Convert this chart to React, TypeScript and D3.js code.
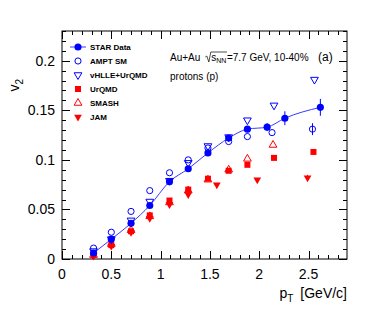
import React, { useEffect, useRef } from "react";
import * as d3 from "d3";

const W = 366;
const H = 309;

// STAR Data
const starPt = [0.32, 0.5, 0.7, 0.89, 1.09, 1.28, 1.48, 1.69, 1.88, 2.08, 2.26, 2.62];
const starV2 = [0.006, 0.02, 0.036, 0.054, 0.078, 0.091, 0.107, 0.122, 0.131, 0.133, 0.142, 0.153];
const starErr = [0.001, 0.001, 0.0015, 0.0015, 0.002, 0.002, 0.0025, 0.003, 0.003, 0.004, 0.007, 0.0085];

// AMPT SM
const amptPt = [0.32, 0.5, 0.7, 0.89, 1.09, 1.28, 1.48, 1.69, 1.88, 2.13, 2.54];
const amptV2 = [0.011, 0.027, 0.048, 0.069, 0.087, 0.1, 0.112, 0.1185, 0.1235, 0.1275, 0.131];
const amptErr = [0, 0, 0, 0, 0, 0, 0, 0, 0, 0, 0.006];

// vHLLE+UrQMD
const vhllePt = [0.32, 0.5, 0.7, 0.89, 1.09, 1.28, 1.48, 1.69, 1.88, 2.15, 2.56];
const vhlleV2 = [0.008, 0.02, 0.039, 0.058, 0.079, 0.097, 0.114, 0.123, 0.14, 0.155, 0.181];

// UrQMD
const urqmdPt = [0.32, 0.5, 0.7, 0.89, 1.09, 1.28, 1.48, 1.69, 1.88, 2.15, 2.55];
const urqmdV2 = [0.004, 0.014, 0.028, 0.044, 0.059, 0.07, 0.081, 0.089, 0.095, 0.102, 0.108];

// SMASH
const smashPt = [0.32, 0.5, 0.7, 0.89, 1.09, 1.28, 1.48, 1.69, 1.88, 2.14];
const smashV2 = [0.004, 0.015, 0.029, 0.043, 0.057, 0.069, 0.08, 0.09, 0.101, 0.115];

// JAM
const jamPt = [0.32, 0.5, 0.7, 0.89, 1.09, 1.28, 1.57, 1.98, 2.49];
const jamV2 = [0.003, 0.013, 0.027, 0.041, 0.055, 0.065, 0.075, 0.08, 0.082];
const jamErr = [0, 0, 0, 0, 0, 0, 0, 0, 0.003];

const xTicks = [0, 0.5, 1, 1.5, 2, 2.5];
const yTicks = [0, 0.05, 0.1, 0.15, 0.2];
const legendLabels = ["STAR Data", "AMPT SM", "vHLLE+UrQMD", "UrQMD", "SMASH", "JAM"];

const BLUE = "#0000ff";
const RED = "#ff0000";
const FONT = "'Liberation Sans', Arial, Helvetica, sans-serif";

export default function App() {
  const ref = useRef<SVGSVGElement>(null);

  useEffect(() => {
    const svg = d3.select(ref.current);
    svg.selectAll("*").remove();

    const L = 62, R = 347, T = 31, B = 259;
    const x = d3.scaleLinear().domain([0, 2.89]).range([L, R]);
    const y = d3.scaleLinear().domain([0, 0.23]).range([B, T]);

    svg.append("rect").attr("width", W).attr("height", H).attr("fill", "white");

    // frame
    svg.append("rect").attr("x", L).attr("y", T).attr("width", R - L).attr("height", B - T)
      .attr("fill", "none").attr("stroke", "black").attr("stroke-width", 1);

    const g = svg.append("g");
    const xMinor = d3.range(0, 2.89, 0.1);
    xMinor.forEach((v) => {
      const major = Math.abs(v * 2 - Math.round(v * 2)) < 1e-6;
      const len = major ? 8 : 4;
      const px = Math.round(x(v)) + 0.5;
      g.append("line").attr("x1", px).attr("x2", px).attr("y1", B).attr("y2", B - len).attr("stroke", "black");
      g.append("line").attr("x1", px).attr("x2", px).attr("y1", T).attr("y2", T + len).attr("stroke", "black");
    });
    const yMinor = d3.range(0, 0.2301, 0.01);
    yMinor.forEach((v) => {
      const major = Math.abs(v * 20 - Math.round(v * 20)) < 1e-6;
      const len = major ? 8 : 4;
      const py = Math.round(y(v)) + 0.5;
      g.append("line").attr("x1", L).attr("x2", L + len).attr("y1", py).attr("y2", py).attr("stroke", "black");
      g.append("line").attr("x1", R).attr("x2", R - len).attr("y1", py).attr("y2", py).attr("stroke", "black");
    });

    xTicks.forEach((v) => {
      g.append("text").attr("x", x(v)).attr("y", 279).attr("text-anchor", "middle")
        .attr("font-family", FONT).attr("font-size", 14).text(d3.format("")(v));
    });
    yTicks.forEach((v) => {
      g.append("text").attr("x", 55).attr("y", y(v) + 5).attr("text-anchor", "end")
        .attr("font-family", FONT).attr("font-size", 14).text(d3.format("")(v));
    });

    // axis titles
    const xt = svg.append("text").attr("x", R).attr("y", 298).attr("text-anchor", "end")
      .attr("font-family", FONT).attr("font-size", 14);
    xt.append("tspan").text("p");
    xt.append("tspan").attr("font-size", 10).attr("dy", 4).text("T");
    xt.append("tspan").attr("dy", -4).attr("dx", 7).text("[GeV/c]");

    const yt = svg.append("text").attr("transform", "translate(19,79) rotate(-90)").attr("text-anchor", "end")
      .attr("font-family", FONT).attr("font-size", 14);
    yt.append("tspan").text("v");
    yt.append("tspan").attr("font-size", 10).attr("dy", 4).text("2");

    // STAR line
    const line = d3.line<number>().x((_, i) => x(starPt[i])).y((d) => y(d)).curve(d3.curveMonotoneX);
    svg.append("path").attr("d", line(starV2)).attr("fill", "none").attr("stroke", "#3a3aff").attr("stroke-width", 1);

    const sym = (type: any, size: number) => d3.symbol().type(type).size(size)();

    const drawSeries = (pts: number[], vals: number[], errs: number[] | null, type: any, size: number,
      color: string, filled: boolean, rot: number) => {
      const gg = svg.append("g");
      if (errs) {
        vals.forEach((v, i) => {
          if (errs[i] > 0) {
            gg.append("line").attr("x1", x(pts[i])).attr("x2", x(pts[i]))
              .attr("y1", y(v - errs[i])).attr("y2", y(v + errs[i])).attr("stroke", color).attr("stroke-width", 1);
          }
        });
      }
      vals.forEach((v, i) => {
        gg.append("path").attr("d", sym(type, size))
          .attr("transform", `translate(${x(pts[i])},${y(v)}) rotate(${rot})`)
          .attr("fill", filled ? color : "white").attr("fill-opacity", filled ? 1 : 0)
          .attr("stroke", color).attr("stroke-width", filled ? 0 : 1);
      });
    };

    drawSeries(jamPt, jamV2, jamErr, d3.symbolTriangle, 26, RED, true, 180);
    drawSeries(smashPt, smashV2, null, d3.symbolTriangle, 26, RED, false, 0);
    drawSeries(urqmdPt, urqmdV2, null, d3.symbolSquare, 36, RED, true, 0);
    drawSeries(vhllePt, vhlleV2, null, d3.symbolTriangle, 26, BLUE, false, 180);
    drawSeries(amptPt, amptV2, amptErr, d3.symbolCircle, 30, BLUE, false, 0);
    drawSeries(starPt, starV2, starErr, d3.symbolCircle, 40, BLUE, true, 0);

    // legend
    const lg = svg.append("g");
    const types = [d3.symbolCircle, d3.symbolCircle, d3.symbolTriangle, d3.symbolSquare, d3.symbolTriangle, d3.symbolTriangle];
    const sizes = [40, 30, 26, 36, 26, 26];
    const cols = [BLUE, BLUE, BLUE, RED, RED, RED];
    const fills = [true, false, false, true, false, true];
    const rots = [0, 0, 180, 0, 0, 180];
    legendLabels.forEach((lab, i) => {
      const cy = 47 + i * 14;
      if (i === 0) {
        lg.append("line").attr("x1", 70).attr("x2", 86).attr("y1", cy).attr("y2", cy).attr("stroke", "#3a3aff");
      }
      lg.append("path").attr("d", sym(types[i], sizes[i]))
        .attr("transform", `translate(78,${cy}) rotate(${rots[i]})`)
        .attr("fill", fills[i] ? cols[i] : "none").attr("stroke", cols[i]).attr("stroke-width", fills[i] ? 0 : 1);
      lg.append("text").attr("x", 90).attr("y", cy + 3).attr("font-family", FONT).attr("font-size", 8)
        .attr("font-weight", "bold").text(lab);
    });

    // annotation
    const fs = 10;
    let cx = 170;
    const t1 = svg.append("text").attr("x", cx).attr("y", 61).attr("font-family", FONT).attr("font-size", fs).text("Au+Au");
    cx += (t1.node() as SVGTextElement).getComputedTextLength() + 5;
    const radStart = cx;
    const ts = svg.append("text").attr("x", cx + 6).attr("y", 61).attr("font-family", FONT).attr("font-size", fs).text("s");
    let cx2 = cx + 6 + (ts.node() as SVGTextElement).getComputedTextLength();
    const tnn = svg.append("text").attr("x", cx2).attr("y", 63).attr("font-family", FONT).attr("font-size", 7).text("NN");
    cx2 += (tnn.node() as SVGTextElement).getComputedTextLength() + 0.5;
    svg.append("path")
      .attr("d", `M${radStart},57 L${radStart + 1.5},56 L${radStart + 3.5},62 L${radStart + 5.5},52 L${cx2},52`)
      .attr("fill", "none").attr("stroke", "black").attr("stroke-width", 0.7);
    svg.append("text").attr("x", cx2).attr("y", 61).attr("font-family", FONT).attr("font-size", fs)
      .text("=7.7 GeV, 10-40%");
    svg.append("text").attr("x", 318).attr("y", 61).attr("font-family", FONT).attr("font-size", 12).text("(a)");
    svg.append("text").attr("x", 170).attr("y", 80).attr("font-family", FONT).attr("font-size", fs).text("protons (p)");
  }, []);

  return (
    <svg ref={ref} width={W} height={H} style={{ position: "fixed", left: 0, top: 0 }} />
  );
}
